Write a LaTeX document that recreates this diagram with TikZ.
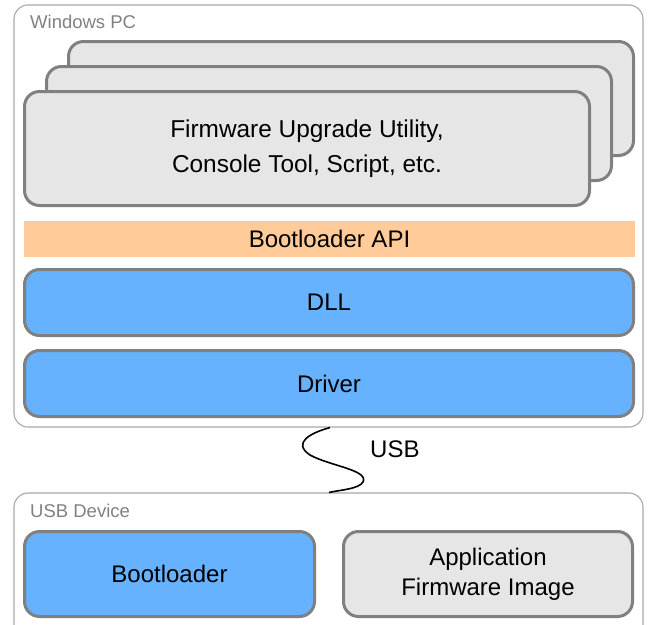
\documentclass[tikz,border=0pt]{standalone}
\usepackage{fontspec}
\setmainfont{Liberation Sans}
\definecolor{bordergray}{HTML}{808080}
\definecolor{framegray}{HTML}{A8A8A8}
\definecolor{labelgray}{HTML}{808080}
\definecolor{boxgray}{HTML}{E6E6E6}
\definecolor{boxblue}{HTML}{66B2FF}
\definecolor{apiorange}{HTML}{FFCC99}
\tikzset{
  layerbox/.style={draw=bordergray, line width=3pt, rounded corners=15pt, inner sep=0pt, align=center, font=\fontsize{24}{30}\selectfont},
  graybox/.style={layerbox, fill=boxgray},
  bluebox/.style={layerbox, fill=boxblue},
  framebox/.style={draw=framegray, line width=1.1pt, rounded corners=14pt, inner sep=0pt},
  framelabel/.style={anchor=base west, text=labelgray, font=\fontsize{18.5}{22}\selectfont, inner sep=0pt},
}
\begin{document}
\begin{tikzpicture}[x=1pt,y=-1pt]
\useasboundingbox (0,0) rectangle (648,624);
\clip (0,0) rectangle (648,624);
% Windows PC frame
\node[framebox, minimum width=629pt, minimum height=422pt] (pc) at (328.5,216) {};
\node[framelabel] (pclabel) at (30,28) {Windows PC};
% stacked application boxes
\node[graybox, minimum width=565pt, minimum height=114pt] (app3) at (351,98.5) {};
\node[graybox, minimum width=565pt, minimum height=114pt] (app2) at (329,123.5) {};
\node[graybox, minimum width=565pt, minimum height=114pt, font=\fontsize{24.4}{35}\selectfont] (app1) at (307,148.5) {Firmware Upgrade Utility,\\Console Tool, Script, etc.};
% Bootloader API bar
\node[fill=apiorange, minimum width=611pt, minimum height=36pt, inner sep=0pt, font=\fontsize{24}{30}\selectfont] (api) at (329.5,239) {Bootloader API};
% DLL and Driver
\node[bluebox, minimum width=609pt, minimum height=66pt] (dll) at (329,302.5) {DLL};
\node[bluebox, minimum width=609pt, minimum height=66pt] (driver) at (329,383.5) {Driver};
% USB device frame
\node[framebox, minimum width=629pt, minimum height=150pt] (dev) at (328.5,568) {};
\node[framelabel] (devlabel) at (30,517) {USB Device};
\node[bluebox, minimum width=290pt, minimum height=85pt] (boot) at (169.5,574) {Bootloader};
\node[graybox, minimum width=289pt, minimum height=85pt] (image) at (488,574) {Application\\Firmware Image};
% USB cable
\coordinate (usbtop) at (pc.south -| 330,0);
\coordinate (usbbot) at (dev.north -| 329,0);
\draw[line width=1.6pt, black] (usbtop) .. controls (310,433) and (292,443) .. (310,455)
  .. controls (330,466) and (369,470) .. (363,482) .. controls (359,489) and (340,490) .. (usbbot);
\node[anchor=base west, inner sep=0pt, font=\fontsize{24}{30}\selectfont] (usblabel) at (370,457) {USB};
\end{tikzpicture}
\end{document}
